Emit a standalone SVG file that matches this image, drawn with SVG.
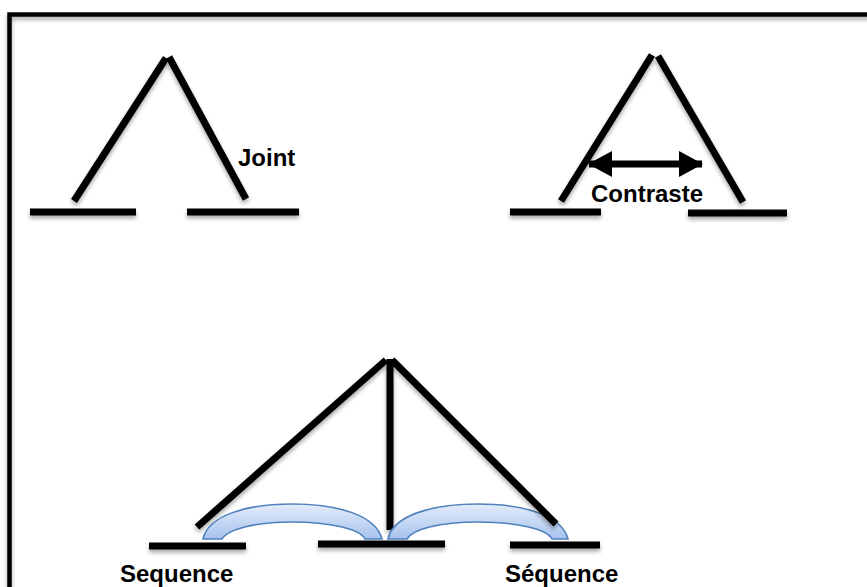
<svg xmlns="http://www.w3.org/2000/svg" width="867" height="587" viewBox="0 0 867 587">
  <style>
    .ln { stroke: #000; stroke-width: 7; fill: none; stroke-linecap: butt; }
    .bar { stroke: #000; stroke-width: 7; fill: none; }
    .lbl { font-family: "Liberation Sans", Arial, sans-serif; font-weight: bold; font-size: 24px; fill: #000; }
    .arc { fill: url(#arcGrad); stroke: #4f81bd; stroke-width: 1.6; }
  </style>
  <defs>
    <linearGradient id="arcGrad" x1="0" y1="0" x2="0" y2="1">
      <stop offset="0" stop-color="#e3ecfa"/>
      <stop offset="1" stop-color="#a7c3ee"/>
    </linearGradient>
    <filter id="sh" x="-10%" y="-30%" width="120%" height="180%">
      <feGaussianBlur in="SourceAlpha" stdDeviation="2"/>
      <feOffset dx="0" dy="3" result="b"/>
      <feComponentTransfer><feFuncA type="linear" slope="0.35"/></feComponentTransfer>
      <feMerge><feMergeNode/><feMergeNode in="SourceGraphic"/></feMerge>
    </filter>
    <marker id="ah" viewBox="0 0 24 26" refX="23" refY="13" markerWidth="24" markerHeight="26" markerUnits="userSpaceOnUse" orient="auto-start-reverse">
      <path d="M0,0 L24,13 L0,26 Z" fill="#000"/>
    </marker>
  </defs>
  <rect width="867" height="587" fill="#fff"/>
  <rect id="frame" x="9.5" y="14.5" width="900" height="620" fill="none" stroke="#000" stroke-width="4.5" filter="url(#sh)"/>

  <g id="joint" filter="url(#sh)">
    <line class="ln" x1="74" y1="201" x2="166" y2="58"/>
    <line class="ln" x1="169" y1="57" x2="246" y2="199"/>
    <line class="bar" x1="30" y1="212" x2="136" y2="212"/>
    <line class="bar" x1="187" y1="212" x2="299" y2="212"/>
  </g>
  <text class="lbl" x="238" y="166">Joint</text>

  <g id="contraste" filter="url(#sh)">
    <line class="ln" x1="561" y1="201" x2="652" y2="55"/>
    <line class="ln" x1="658" y1="56" x2="743" y2="202"/>
    <line class="bar" x1="510" y1="212" x2="601" y2="212"/>
    <line class="bar" x1="688" y1="213" x2="787" y2="213"/>
  </g>
  <g id="connectors">
    <line x1="589" y1="164" x2="702" y2="164" stroke="#000" stroke-width="7" marker-start="url(#ah)" marker-end="url(#ah)"/>
  </g>
  <text class="lbl" x="591" y="202">Contraste</text>

  <g id="sequence">
    <g filter="url(#sh)">
      <line class="bar" x1="149" y1="546" x2="246" y2="546"/>
      <line class="bar" x1="318" y1="544" x2="445" y2="544"/>
      <line class="bar" x1="510" y1="545" x2="600" y2="545"/>
      <line class="ln" x1="197" y1="527" x2="386" y2="360"/>
      <line class="ln" x1="390" y1="359" x2="390" y2="530"/>
    </g>
    <path class="arc" d="M203,539 C208,516 245,504 292,504 C340,504 376,516 382,539 L365,539 C360,529 330,522 292,522 C256,522 228,529 222,539 Z"/>
    <path class="arc" d="M388,539 C393,516 430,504 478,504 C526,504 562,516 568,539 L552,539 C547,529 516,522 478,522 C440,522 413,529 407,539 Z"/>
    <g filter="url(#sh)">
      <line class="ln" x1="392" y1="360" x2="556" y2="524"/>
    </g>
  </g>
  <text class="lbl" x="120" y="582">Sequence</text>
  <text class="lbl" x="505" y="582">Séquence</text>
</svg>
